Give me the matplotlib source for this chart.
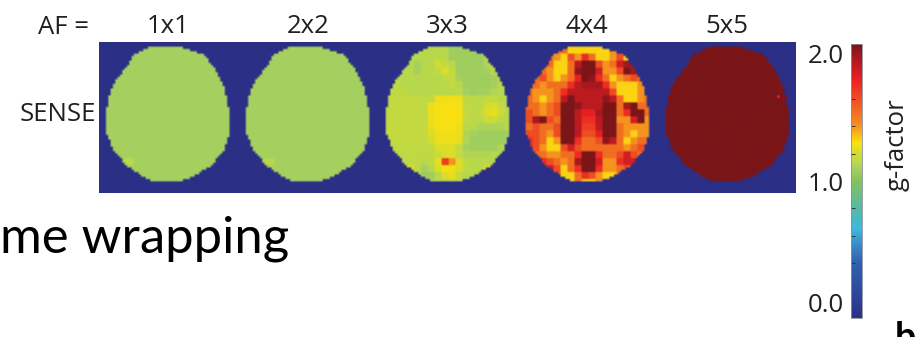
# Mapas de g-factor (SENSE) para cada fator de aceleração

import numpy as np
import matplotlib
matplotlib.use("Agg")
import matplotlib.pyplot as plt
from matplotlib.colors import LinearSegmentedColormap
from matplotlib.path import Path

W, H = 915, 337

# Rótulos
af_labels = ["1x1", "2x2", "3x3", "4x4", "5x5"]

# Contorno do cérebro, em células do mapa
outline_y = [0, 3.4, 8.6, 15.5, 22.7, 30, 37, 44, 51.5, 56, 58]
outline_left = [19, 12, 9, 3.5, 1, 0, 0, 3, 9, 16, 20]
outline_right = [32, 42, 46, 50, 52, 53, 53, 51, 45, 37, 32]

# g-factor x 100, blocos de 3x3 células
gmap_1x1 = [[110] * 18 for _ in range(20)]
gmap_2x2 = [[110] * 18 for _ in range(20)]
gmap_5x5 = [[200] * 18 for _ in range(20)]
gmap_3x3 = [
    [113, 113, 113, 113, 113, 113, 113, 113, 113, 108, 108, 108, 108, 113, 113, 113, 113, 113],
    [113, 113, 113, 113, 113, 113, 113, 113, 113, 108, 108, 108, 108, 108, 113, 113, 113, 113],
    [113, 113, 113, 113, 110, 113, 113, 120, 116, 113, 108, 108, 108, 108, 112, 116, 113, 113],
    [113, 113, 113, 113, 110, 113, 113, 116, 122, 116, 108, 108, 108, 108, 110, 114, 113, 113],
    [113, 113, 113, 113, 113, 113, 113, 113, 116, 116, 110, 108, 108, 108, 108, 110, 113, 113],
    [115, 115, 113, 113, 113, 113, 113, 113, 113, 116, 113, 108, 108, 108, 108, 110, 113, 113],
    [115, 115, 115, 113, 113, 113, 113, 113, 113, 113, 114, 110, 108, 110, 110, 112, 113, 113],
    [116, 116, 116, 116, 115, 115, 115, 125, 126, 126, 125, 115, 114, 114, 116, 116, 113, 113],
    [116, 116, 116, 116, 116, 115, 125, 127, 127, 127, 127, 115, 114, 114, 120, 122, 116, 113],
    [116, 116, 116, 116, 116, 115, 125, 127, 128, 128, 127, 116, 114, 116, 122, 124, 118, 113],
    [116, 116, 116, 116, 116, 116, 125, 127, 128, 128, 127, 116, 114, 114, 118, 118, 114, 113],
    [116, 116, 116, 116, 116, 116, 124, 127, 127, 127, 126, 114, 113, 111, 111, 111, 111, 113],
    [116, 116, 116, 116, 116, 116, 122, 125, 126, 126, 125, 112, 110, 108, 108, 108, 108, 108],
    [116, 116, 116, 116, 116, 116, 120, 125, 125, 125, 124, 112, 108, 108, 108, 108, 108, 108],
    [115, 115, 115, 115, 115, 115, 116, 122, 122, 122, 116, 110, 108, 108, 108, 108, 112, 113],
    [115, 115, 115, 115, 115, 115, 115, 118, 122, 122, 116, 112, 112, 112, 112, 113, 113, 113],
    [115, 115, 115, 115, 115, 113, 115, 124, 165, 140, 122, 115, 113, 113, 113, 113, 113, 113],
    [115, 115, 122, 122, 115, 110, 113, 122, 128, 126, 122, 115, 113, 113, 122, 115, 113, 113],
    [115, 115, 118, 124, 115, 108, 108, 114, 122, 124, 116, 113, 113, 113, 113, 113, 113, 113],
    [113, 113, 113, 113, 113, 113, 113, 113, 113, 118, 113, 113, 113, 113, 113, 113, 113, 113],
]
gmap_4x4 = [
    [150, 150, 150, 150, 150, 150, 130, 130, 130, 130, 130, 130, 140, 150, 150, 150, 150, 150],
    [150, 150, 150, 150, 140, 130, 160, 140, 170, 150, 130, 130, 140, 160, 130, 150, 150, 150],
    [150, 150, 150, 150, 130, 130, 150, 185, 200, 200, 160, 140, 150, 180, 190, 190, 150, 150],
    [150, 150, 150, 140, 130, 130, 150, 195, 200, 200, 180, 140, 140, 160, 200, 190, 170, 150],
    [150, 150, 160, 140, 130, 140, 150, 175, 200, 195, 170, 150, 130, 140, 150, 160, 150, 150],
    [150, 150, 140, 150, 150, 150, 170, 185, 190, 190, 190, 170, 140, 130, 130, 130, 140, 150],
    [150, 140, 140, 140, 150, 170, 185, 185, 185, 185, 185, 185, 160, 130, 130, 130, 140, 150],
    [150, 140, 130, 140, 150, 185, 200, 185, 185, 185, 185, 195, 185, 150, 130, 130, 140, 150],
    [150, 150, 140, 150, 160, 200, 200, 195, 185, 185, 185, 200, 200, 150, 190, 200, 150, 150],
    [160, 150, 140, 150, 160, 200, 200, 185, 175, 175, 190, 200, 200, 150, 170, 200, 200, 150],
    [160, 190, 200, 160, 150, 200, 200, 185, 170, 170, 185, 200, 200, 140, 140, 180, 200, 140],
    [150, 160, 150, 150, 160, 200, 200, 185, 165, 165, 185, 200, 200, 150, 140, 140, 140, 140],
    [160, 160, 150, 140, 160, 200, 200, 185, 160, 160, 175, 200, 200, 150, 140, 130, 140, 140],
    [170, 160, 150, 130, 140, 200, 200, 170, 150, 150, 160, 195, 185, 150, 130, 140, 150, 150],
    [170, 160, 140, 130, 130, 160, 180, 160, 150, 150, 150, 150, 150, 150, 140, 150, 160, 150],
    [150, 150, 150, 140, 140, 150, 150, 170, 200, 200, 170, 150, 150, 160, 180, 160, 150, 150],
    [150, 150, 170, 160, 150, 140, 150, 190, 200, 200, 180, 140, 140, 170, 180, 180, 150, 150],
    [150, 150, 150, 180, 160, 130, 150, 170, 200, 200, 170, 140, 140, 150, 160, 150, 150, 150],
    [150, 150, 150, 150, 160, 130, 130, 150, 170, 160, 140, 130, 130, 150, 150, 150, 150, 150],
    [150, 150, 150, 150, 150, 140, 130, 150, 130, 130, 140, 150, 140, 150, 150, 150, 150, 150],
]
gmaps = [gmap_1x1, gmap_2x2, gmap_3x3, gmap_4x4, gmap_5x5]

# Escala de cores
cbar_pos = [0.0, 0.2, 0.4, 0.52, 0.65, 0.8, 1.0, 1.1, 1.13, 1.2, 1.28, 1.41, 1.61, 1.74, 2.0]
cbar_colors = ["#2b2f85", "#2e4a9e", "#2f62ae", "#3a84c4", "#3fb8e0", "#55b9a2", "#84c25f",
               "#a6d15f", "#b8d84c", "#d2dc30", "#fbe010", "#f58e20", "#ee4a24", "#ed2024",
               "#7a1518"]
background = 0.0

cmap = LinearSegmentedColormap.from_list(
    "gfactor", [(p / 2.0, c) for p, c in zip(cbar_pos, cbar_colors)], N=512)

# Monta o painel
rows, cols = 65, 299
panel = np.full((rows, cols), background)
path = Path(list(zip(outline_left, outline_y))
            + list(zip(outline_right, outline_y))[::-1])
yy, xx = np.mgrid[0:60, 0:54]
inside = path.contains_points(np.c_[xx.ravel() + 0.5, yy.ravel() + 0.5]).reshape(60, 54)
centers = []
for i, gmap in enumerate(gmaps):
    cells = np.kron(np.array(gmap, dtype=float) / 100.0, np.ones((3, 3)))
    if i == 4:
        cells[21, 48] = 1.7
    if i in (0, 1):
        cells[48:51, 8:12] = 1.14
    x0 = 3 + 60 * i
    view = panel[2:62, x0:x0 + 54]
    view[inside] = cells[inside]
    centers.append(x0 + 26.5)

fig = plt.figure(figsize=(W / 100, H / 100), dpi=100)
label_font = "Open Sans"
label_size = 18.5

# Painel principal
ax = fig.add_axes([99 / W, 1 - 193 / H, 697 / W, 151 / H])
ax.imshow(panel, cmap=cmap, vmin=0, vmax=2, aspect="auto", interpolation="bilinear",
          extent=(0, cols, rows, 0))
ax.xaxis.tick_top()
ax.set_xticks(centers, af_labels, family=label_font, fontsize=label_size, color="#231f20")
ax.set_yticks([rows * 0.46], ["SENSE"], family=label_font, fontsize=label_size, color="#231f20")
ax.tick_params(length=0, pad=2.5)
for spine in ax.spines.values():
    spine.set_visible(False)
fig.text(38 / W, 1 - 27 / H, "AF =", family=label_font, fontsize=label_size,
         color="#231f20", va="center")

# Barra de cores
cax = fig.add_axes([851 / W, 1 - 318 / H, 11 / W, 274 / H])
sm = plt.cm.ScalarMappable(norm=plt.Normalize(0, 2), cmap=cmap)
cb = fig.colorbar(sm, cax=cax)
cb.outline.set_edgecolor("#8a8f9a")
cb.outline.set_linewidth(0.6)
cb.set_ticks([0, 1, 2], labels=["0.0", "1.0", "2.0"])
cax.yaxis.set_ticks_position("left")
cax.tick_params(length=0, pad=5, labelsize=label_size, labelcolor="#231f20")
for label in cax.get_yticklabels():
    label.set_family(label_font)
cax.get_yticklabels()[0].set_va("bottom")
cax.get_yticklabels()[2].set_va("top")
cax.set_yticks([0.4, 0.6, 0.8, 1.0, 1.2, 1.4, 1.6], minor=True)
cax.tick_params(which="minor", direction="in", left=True, length=3, width=0.7,
                color="#333333")
fig.text(897 / W, 1 - 145 / H, "g-factor", family=label_font, fontsize=label_size,
         color="#231f20", rotation=90, va="center", ha="center")

# Texto do slide ao fundo
fig.text(0, 1 - 252 / H, "me wrapping", family="Lato", fontsize=36.5, color="black")
fig.text(895 / W, 1 - 349 / H, "b", family="Lato", fontweight="bold", fontsize=27,
         color="black")

fig.savefig("out.png", dpi=100)
